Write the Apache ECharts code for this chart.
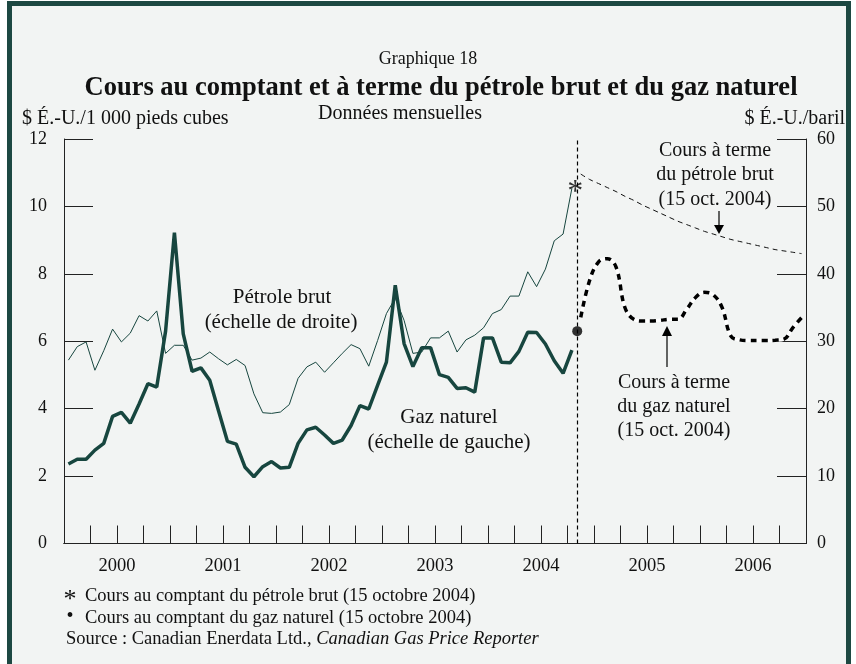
<!DOCTYPE html>
<html>
<head>
<meta charset="utf-8">
<script src="https://cdn.jsdelivr.net/npm/echarts@6/dist/echarts.min.js"></script>
<style>
  html, body { margin: 0; padding: 0; background: #fff; }
  #chart { width: 856px; height: 664px; }
</style>
</head>
<body>
<div id="chart"></div>
<script>
// bottom axis labels
const years = ['2000', '2001', '2002', '2003', '2004', '2005', '2006']
// monthly spot prices, Jan 2000 - Oct 2004
const spotStart = '2000-01'
const gasSpot = [2.36, 2.50, 2.50, 2.77, 2.97, 3.77, 3.89, 3.57, 4.14, 4.74, 4.64, 6.30,
  9.22, 6.22, 5.11, 5.21, 4.84, 3.93, 3.03, 2.95, 2.26, 1.98, 2.28, 2.43,
  2.24, 2.26, 2.97, 3.37, 3.45, 3.22, 2.97, 3.07, 3.50, 4.09, 3.99, 4.69,
  5.38, 7.66, 5.93, 5.25, 5.81, 5.81, 5.01, 4.93, 4.60, 4.62, 4.49, 6.10,
  6.10, 5.38, 5.36, 5.70, 6.27, 6.26, 5.92, 5.42, 5.05, 5.74]
const oilSpot = [27.2, 29.2, 29.9, 25.7, 28.6, 31.8, 29.9, 31.2, 33.8, 33.0, 34.5, 28.2,
  29.4, 29.4, 27.2, 27.5, 28.4, 27.4, 26.5, 27.3, 26.4, 22.2, 19.4, 19.3,
  19.5, 20.6, 24.5, 26.2, 26.9, 25.4, 26.8, 28.2, 29.5, 28.9, 26.3, 30.1,
  34.1, 36.4, 33.1, 28.2, 28.4, 30.5, 30.5, 31.5, 28.4, 30.2, 30.9, 32.0,
  34.1, 34.7, 36.7, 36.7, 40.3, 38.1, 40.7, 44.9, 45.9, 52.7]
// futures curves quoted on 15 Oct 2004, Nov 2004 - Dec 2006
const futuresStart = '2004-11'
const gasFutures = [6.71, 7.80, 8.35, 8.45, 8.20, 7.00, 6.65, 6.60, 6.60, 6.62, 6.65, 6.65,
  6.95, 7.30, 7.45, 7.38, 7.00, 6.15, 6.04, 6.02, 6.02, 6.02, 6.03, 6.06, 6.40, 6.70]
const oilFutures = [54.8, 54.0, 53.4, 52.8, 52.2, 51.5, 50.9, 50.2, 49.6, 49.0, 48.4, 47.8,
  47.3, 46.8, 46.3, 45.9, 45.5, 45.1, 44.8, 44.5, 44.2, 43.9, 43.6, 43.4, 43.2, 43.0]
// spot prices of 15 Oct 2004, and where that day sits on the month scale
const gasSpotDay = 6.3
const oilSpotDay = 53.2
const spotDayMonth = 58.1

const FONT = '"Liberation Serif", "Times New Roman", serif'
const GREEN = '#17463f'

function monthIndex(s) {
  const [y, m] = s.split('-').map(Number)
  return (y - 2000) * 12 + (m - 1)
}
function toPoints(arr, start) {
  const k0 = monthIndex(start)
  return arr.map((v, i) => [k0 + i + 0.5, v])
}

const chart = echarts.init(document.getElementById('chart'))

const txt = (x, y, text, extra) => ({
  type: 'text', x: x, y: y, z: 50,
  style: Object.assign({
    text: text, fontFamily: FONT, fontSize: 20, fill: '#111',
    align: 'center', verticalAlign: 'middle'
  }, extra || {})
})

const option = {
  backgroundColor: '#ffffff',
  animation: false,
  grid: { left: 64, right: 50, top: 139, bottom: 120.5 },
  xAxis: [
    {
      type: 'value', min: 0, max: 84, interval: 3, position: 'bottom',
      axisLine: { onZero: false, lineStyle: { color: '#222', width: 1.2 } },
      axisTick: { inside: true, length: 18, lineStyle: { color: '#222' } },
      axisLabel: { show: false },
      splitLine: { show: false }
    },
    {
      type: 'category', data: years, boundaryGap: true, position: 'bottom',
      axisLine: { onZero: false, lineStyle: { color: '#222', width: 1.2 } },
      axisTick: { inside: true, length: 37, lineStyle: { color: '#222' } },
      axisLabel: { fontFamily: FONT, fontSize: 18.5, color: '#111', margin: 13 },
      splitLine: { show: false }
    }
  ],
  yAxis: [
    {
      type: 'value', min: 0, max: 12, interval: 2, position: 'left',
      axisLine: { show: true, onZero: false, lineStyle: { color: '#222' } },
      axisTick: { show: true, inside: true, length: 29, lineStyle: { color: '#222' } },
      axisLabel: { fontFamily: FONT, fontSize: 18, color: '#111', margin: 17 },
      splitLine: { show: false }
    },
    {
      type: 'value', min: 0, max: 60, interval: 10, position: 'right',
      axisLine: { show: true, onZero: false, lineStyle: { color: '#222' } },
      axisTick: { show: true, inside: true, length: 29, lineStyle: { color: '#222' } },
      axisLabel: { fontFamily: FONT, fontSize: 18, color: '#111', margin: 11 },
      splitLine: { show: false }
    }
  ],
  series: [
    {
      name: 'Gaz naturel', type: 'line', yAxisIndex: 0, symbol: 'none',
      data: toPoints(gasSpot, spotStart),
      lineStyle: { color: GREEN, width: 3.5 }, z: 5
    },
    {
      name: 'Pétrole brut', type: 'line', yAxisIndex: 1, symbol: 'none',
      data: toPoints(oilSpot, spotStart),
      lineStyle: { color: GREEN, width: 1 }, z: 4
    },
    {
      name: 'Pétrole à terme', type: 'line', yAxisIndex: 1, symbol: 'none', smooth: 0.3,
      data: toPoints(oilFutures, futuresStart),
      lineStyle: { color: '#111', width: 1, type: [5, 4] }
    },
    {
      name: 'Gaz à terme fond', type: 'line', yAxisIndex: 0, symbol: 'none', smooth: 0.4,
      data: toPoints(gasFutures, futuresStart),
      lineStyle: { color: '#ffffff', width: 3.5 }
    },
    {
      name: 'Gaz à terme', type: 'line', yAxisIndex: 0, symbol: 'none', smooth: 0.4,
      data: toPoints(gasFutures, futuresStart),
      lineStyle: { color: '#000', width: 3.5, type: [6, 5] }, z: 6
    },
    {
      name: 'Gaz 15 oct.', type: 'scatter', yAxisIndex: 0,
      data: [[spotDayMonth, gasSpotDay]],
      symbol: 'circle', symbolSize: 10, itemStyle: { color: '#000' }, z: 8,
      markLine: {
        silent: true, symbol: 'none', label: { show: false },
        lineStyle: { color: '#000', width: 1.2, type: [4, 3] },
        data: [[{ coord: [spotDayMonth, 0] }, { coord: [spotDayMonth, 12] }]]
      }
    },
    {
      name: 'Pétrole 15 oct.', type: 'scatter', yAxisIndex: 1,
      data: [[spotDayMonth, oilSpotDay]],
      symbolSize: 1, itemStyle: { color: 'rgba(0,0,0,0)' }, z: 8,
      label: {
        show: true, position: 'inside', formatter: '*', offset: [-2, 8],
        fontFamily: FONT, fontSize: 32, color: '#000'
      }
    }
  ],
  graphic: [
    {
      type: 'rect', z: -100, silent: true,
      shape: { x: 9.5, y: 3.5, width: 839, height: 700 },
      style: { fill: '#f2f4f3', stroke: '#1d4842', lineWidth: 5 }
    },
    txt(428, 59, 'Graphique 18', { fontSize: 18 }),
    txt(441, 88, 'Cours au comptant et à terme du pétrole brut et du gaz naturel', { fontSize: 26.5, fontWeight: 'bold' }),
    txt(22, 119, '$ É.-U./1 000 pieds cubes', { align: 'left' }),
    txt(400, 114, 'Données mensuelles'),
    txt(845, 119, '$ É.-U./baril', { align: 'right' }),
    txt(282, 297, 'Pétrole brut', { fontSize: 21 }),
    txt(281, 322, '(échelle de droite)', { fontSize: 21 }),
    txt(449, 417, 'Gaz naturel', { fontSize: 21 }),
    txt(449, 442, '(échelle de gauche)', { fontSize: 21 }),
    txt(715, 150.5, 'Cours à terme'),
    txt(715, 175, 'du pétrole brut'),
    txt(715, 199.5, '(15 oct. 2004)'),
    txt(674, 383, 'Cours à terme'),
    txt(674, 407, 'du gaz naturel'),
    txt(674, 431, '(15 oct. 2004)'),
    { type: 'line', z: 50, shape: { x1: 719, y1: 211, x2: 719, y2: 226 }, style: { stroke: '#000', lineWidth: 1.2 } },
    { type: 'polygon', z: 50, shape: { points: [[714, 225], [724, 225], [719, 234]] }, style: { fill: '#000' } },
    { type: 'line', z: 50, shape: { x1: 667, y1: 367, x2: 667, y2: 335 }, style: { stroke: '#000', lineWidth: 1.2 } },
    { type: 'polygon', z: 50, shape: { points: [[662, 336], [672, 336], [667, 326]] }, style: { fill: '#000' } },
    txt(70, 600, '*', { fontSize: 26 }),
    txt(85, 596, 'Cours au comptant du pétrole brut (15 octobre 2004)', { fontSize: 18.5, align: 'left' }),
    txt(70, 617, '•', { fontSize: 20 }),
    txt(85, 618, 'Cours au comptant du gaz naturel (15 octobre 2004)', { fontSize: 18.5, align: 'left' }),
    txt(66, 639, 'Source : Canadian Enerdata Ltd., {i|Canadian Gas Price Reporter}', {
      fontSize: 18.5, align: 'left',
      rich: { i: { fontStyle: 'italic', fontFamily: FONT, fontSize: 18.5, fill: '#111' } }
    })
  ]
}

chart.setOption(option)
</script>
</body>
</html>
